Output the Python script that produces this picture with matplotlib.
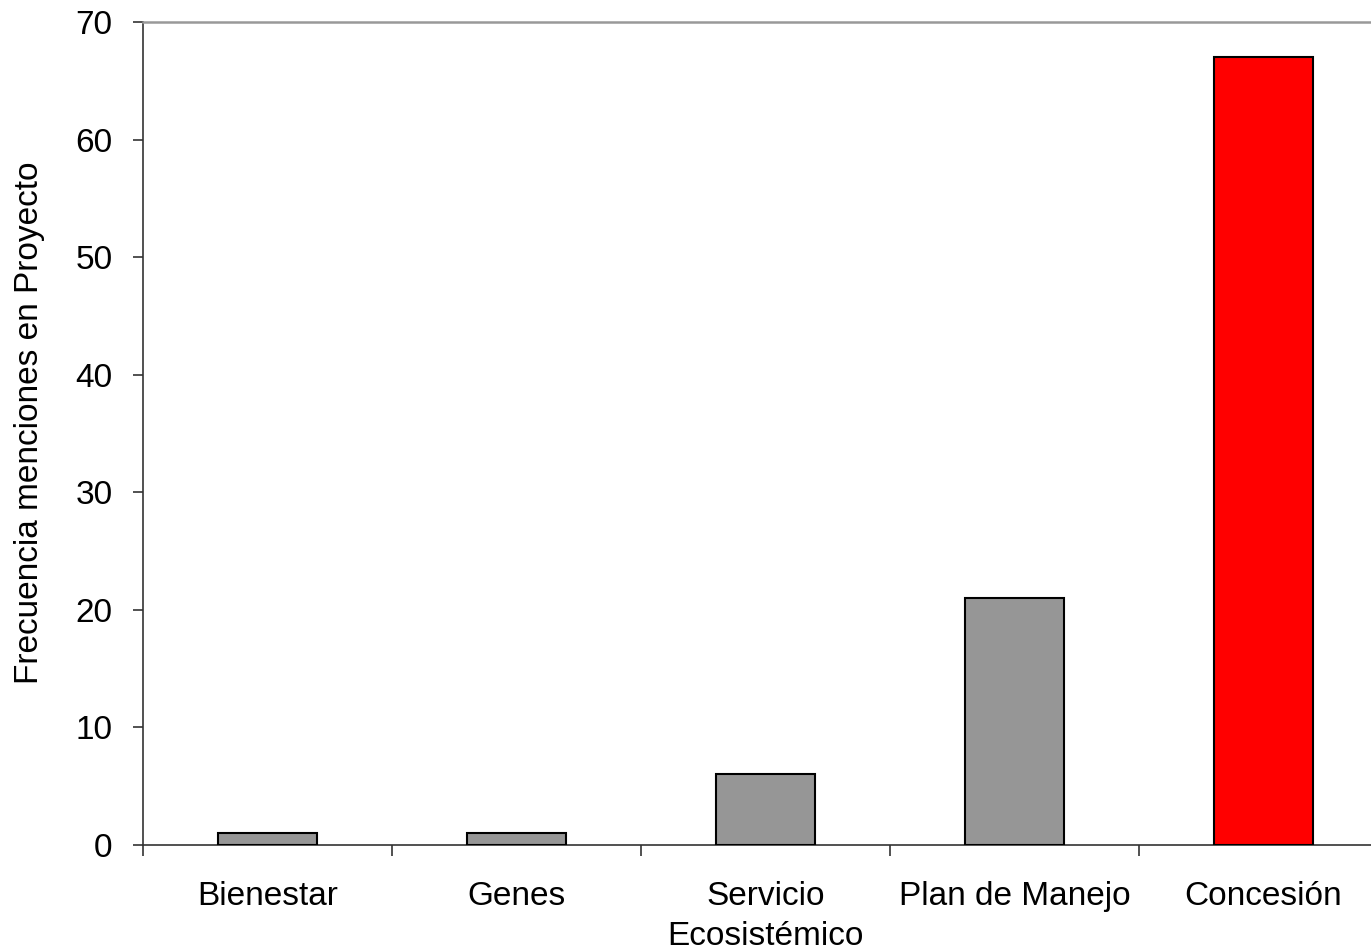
import matplotlib
matplotlib.use("Agg")
import matplotlib.pyplot as plt
import numpy as np

categories = ["Bienestar", "Genes", "Servicio\nEcosistémico", "Plan de Manejo", "Concesión"]
values = [1, 1, 6, 21, 67]
colors = ["#969696", "#969696", "#969696", "#969696", "#FF0000"]
yticks = [0, 10, 20, 30, 40, 50, 60, 70]
ylabel = "Frecuencia menciones en Proyecto"

plt.rcParams["font.family"] = ["Liberation Sans", "DejaVu Sans"]
fs = 24

fig = plt.figure(figsize=(13.71, 9.5), dpi=100)
ax = fig.add_axes([143/1371, 1-845/950, (1388-143)/1371, (845-22)/950])

x = np.arange(len(categories))
ax.bar(x, values, width=0.4, color=colors, edgecolor="black", linewidth=1.5, zorder=3)

ax.set_xlim(-0.5, len(categories) - 0.5)
ax.set_ylim(0, 70)
ax.set_yticks(yticks)
ax.set_yticklabels([str(t) for t in yticks], fontsize=fs)
ax.tick_params(axis="y", direction="out", length=7, width=1.2, color="#333333", pad=15)

ax.set_xticks(x)
ax.set_xticklabels(categories, fontsize=fs, linespacing=1.35)
ax.tick_params(axis="x", which="major", length=0, pad=26)
ax.set_xticks(np.arange(-0.5, len(categories) + 0.5, 1), minor=True)
ax.tick_params(axis="x", which="minor", direction="out", length=8, width=1.2, color="#333333")

ax.spines["right"].set_visible(False)
ax.spines["top"].set_color("#999999")
ax.spines["top"].set_linewidth(1.8)
ax.spines["bottom"].set_color("#333333")
ax.spines["bottom"].set_linewidth(1.2)
ax.spines["left"].set_color("#333333")
ax.spines["left"].set_linewidth(1.2)

ax.set_ylabel(ylabel, fontsize=fs)
ax.yaxis.set_label_coords(-(143-45)/1245, (845-423)/823)

fig.savefig("out.png", dpi=100)
